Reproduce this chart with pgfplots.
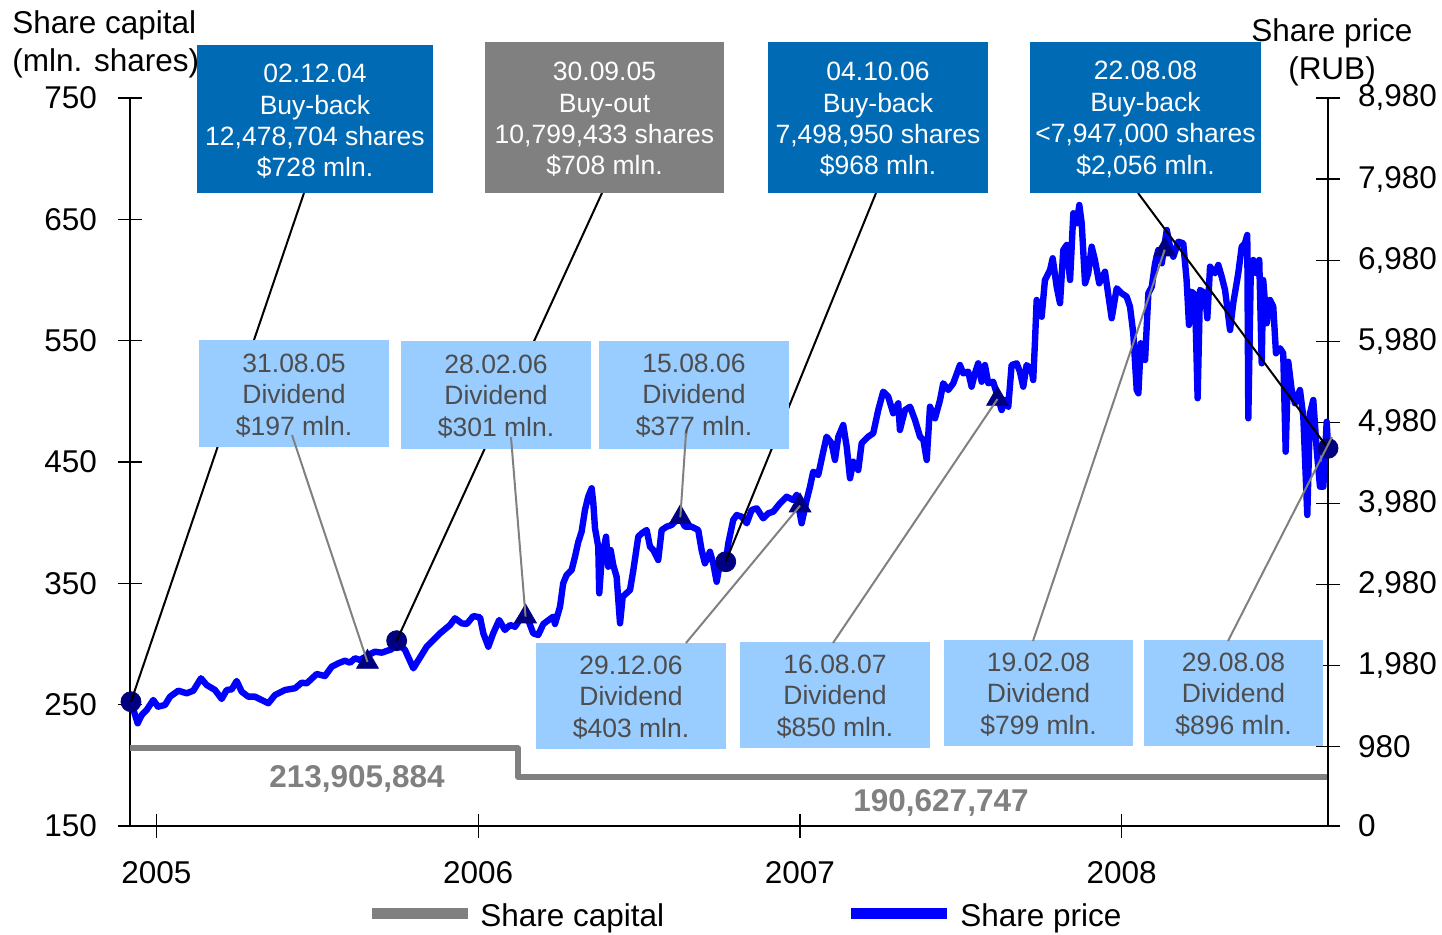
\documentclass[border=0pt]{standalone}
\usepackage{fontspec}
\setmainfont{Liberation Sans}
\usepackage{pgfplots}
\usepackage{pgfplotstable}
\pgfplotsset{compat=1.18}
\definecolor{bbdark}{RGB}{0,106,180}
\definecolor{bbgray}{RGB}{128,128,128}
\definecolor{bblight}{RGB}{153,204,255}
\definecolor{txtgray}{RGB}{77,77,77}
\definecolor{mnavy}{RGB}{0,0,128}
\definecolor{pblue}{RGB}{0,0,255}
\newcommand\mainfont{\fontsize{15.75}{18.9}\selectfont}
\newcommand\boxfont{\fontsize{13.25}{15.7}\selectfont}

% share capital (mln. shares), x = days from 1 Jan 2005
\pgfplotstableread{
d cap
-30 213.9
410 190.6
1329 190.6
}\capital

% share price (RUB)
\pgfplotstableread{
d p
-28.9 1533
-21.3 1267
-16.7 1369
-11.1 1431
-3.6 1554
1.8 1472
9.7 1493
15.4 1595
24.8 1669
34.3 1637
41.8 1669
50.5 1822
57.0 1739
66.4 1678
74.0 1567
79.7 1678
85.4 1686
91.0 1789
96.7 1657
104.2 1595
111.8 1595
119.4 1554
126.9 1514
134.5 1616
145.8 1678
157.2 1699
164.8 1768
170.5 1760
181.8 1875
191.2 1850
198.8 1965
206.3 2007
213.9 2039
219.6 2014
225.2 2069
230.9 2048
240.3 2109
247.9 2150
255.5 2138
266.8 2180
272.5 2273
282.0 2171
291.4 1945
306.6 2212
321.7 2377
333.0 2479
338.7 2562
346.3 2500
352.0 2492
359.5 2590
367.1 2574
370.8 2377
376.5 2212
382.0 2377
388.8 2541
395.3 2418
401.1 2479
406.8 2458
414.4 2582
421.7 2541
427.4 2377
433.1 2356
438.9 2492
450.1 2582
452.1 2492
457.8 2705
461.4 2994
465.3 3096
471.0 3158
474.8 3322
478.6 3507
482.3 3630
486.1 3898
489.8 4062
493.7 4166
495.6 3980
497.5 3672
501.2 3445
502.3 2870
505.0 3281
510.0 3569
512.5 3198
515.2 3404
518.2 3219
522.0 3075
525.9 2500
528.9 2828
537.2 2911
541.0 3158
546.6 3569
550.5 3610
556.1 3651
559.9 3445
563.6 3404
569.2 3281
573.1 3651
578.8 3692
584.4 3713
593.8 3815
599.5 3692
607.1 3692
614.6 3651
618.4 3404
622.2 3240
627.9 3383
631.6 3240
635.5 3013
639.2 3240
646.1 3281
648.7 3487
654.3 3775
658.2 3836
663.9 3815
669.6 3734
675.2 3898
680.9 3919
688.3 3795
694.0 3857
699.7 3877
707.3 3980
714.9 4062
722.4 4021
726.2 4083
731.9 3734
737.6 4021
741.4 4185
745.0 4370
750.7 4330
756.4 4617
760.2 4802
765.9 4721
769.7 4515
773.5 4802
779.1 4946
783.0 4679
786.8 4289
790.4 4494
796.1 4391
800.0 4721
807.4 4802
813.1 4844
818.8 5131
824.4 5357
830.1 5296
835.8 5091
841.5 5214
843.4 4885
849.1 5131
854.9 5172
860.5 5008
866.2 4802
870.0 4761
873.8 4515
877.5 5172
883.2 5029
888.9 5255
892.5 5461
898.2 5378
903.9 5461
911.5 5686
915.2 5584
920.9 5604
924.7 5419
928.5 5584
932.2 5707
936.1 5480
939.8 5686
943.6 5461
949.2 5480
953.1 5337
958.8 5131
962.5 5255
966.3 5172
970.1 5686
975.8 5707
979.5 5604
983.3 5419
987.1 5686
992.8 5625
994.6 5501
996.6 5974
998.5 6488
1004.2 6282
1007.9 6735
1013.7 6858
1016.7 7003
1021.2 6652
1025.0 6448
1028.7 7105
1032.6 7167
1036.4 6735
1040.1 7558
1043.9 7434
1046.9 7660
1049.6 7434
1053.4 6694
1057.0 6818
1060.9 7146
1064.6 6982
1069.5 6694
1076.0 6837
1083.6 6263
1089.3 6633
1094.9 6571
1100.6 6529
1104.4 6406
1108.1 6077
1112.0 5378
1113.9 5337
1116.6 5954
1121.5 5748
1125.2 6571
1129.1 6652
1132.8 6941
1136.5 7105
1140.4 6941
1146.1 7352
1149.8 7146
1153.5 7022
1159.2 7207
1164.8 7188
1168.6 6735
1171.3 6180
1174.3 6591
1178.1 6550
1181.1 5276
1183.8 6612
1189.4 6571
1192.1 6263
1195.2 6899
1200.8 6818
1204.6 6920
1208.4 6776
1212.2 6612
1217.9 6118
1221.5 6448
1227.2 6818
1231.1 7146
1234.8 7188
1237.4 7290
1238.6 5029
1241.3 6776
1244.2 6982
1248.1 6818
1251.0 6982
1253.8 5707
1255.5 6735
1259.4 6201
1263.2 6488
1266.9 6406
1270.0 5831
1274.6 5892
1278.2 5831
1281.0 4617
1283.9 5727
1287.8 5378
1291.5 5214
1297.2 5378
1301.0 5049
1305.5 3836
1308.6 5091
1312.3 5255
1316.2 4638
1319.9 4185
1323.7 4185
1327.5 4987
1329.0 4679
}\price

\begin{document}
\begin{tikzpicture}
\pgfplotsset{
  common/.style={scale only axis, width=599pt, height=364pt,
    xmin=-30, xmax=1329, at={(0pt,0pt)}, anchor=south west, clip=false,
    axis line style={line width=0.6pt, black, -},
    tick style={line width=0.6pt, black},
    major tick length=12pt, tick align=center,
    tick label style={font=\mainfont},
    /pgf/number format/assume math mode=true,
    scaled ticks=false}
}
\begin{axis}[common, ymin=150, ymax=750,
  ytick={150,250,350,450,550,650,750},
  axis x line*=bottom, axis y line*=left,
  yticklabel style={xshift=-7pt},
  xticklabel style={yshift=-8pt},
  xtick={0,365,730,1095}, xticklabels={2005,2006,2007,2008}]
\addplot[const plot, color=bbgray, line width=3pt, line join=round] table[x=d, y=cap] {\capital};
\end{axis}
\begin{axis}[common, ymin=0, ymax=8980,
  ytick={0,980,1980,2980,3980,4980,5980,6980,7980,8980},
  axis y line*=right, axis x line=none,
  yticklabel style={xshift=5.5pt},
  /pgf/number format/.cd, 1000 sep={,}]
\addplot[color=pblue, line width=3.2pt, line join=round] table[x=d, y=p] {\price};
\addplot[only marks, mark=*, mark size=5pt, color=mnavy] coordinates {(-28.9,1533) (272.5,2286) (645.8,3260) (1329,4659)};
\addplot[only marks, mark=triangle*, mark size=6.25pt, color=mnavy] coordinates {(239.4,2023) (418.7,2583) (594.3,3808) (730.1,3951) (954.1,5267) (1143.8,7109)};
\coordinate (c1) at (axis cs:-28.9,1533);
\coordinate (c2) at (axis cs:272.5,2286);
\coordinate (c3) at (axis cs:645.8,3260);
\coordinate (c4) at (axis cs:1329,4659);
\coordinate (t1) at (axis cs:239.4,2023);
\coordinate (t2) at (axis cs:418.7,2583);
\coordinate (t3) at (axis cs:594.3,3808);
\coordinate (t4) at (axis cs:730.1,3951);
\coordinate (t5) at (axis cs:954.1,5267);
\coordinate (t6) at (axis cs:1143.8,7109);
\end{axis}

\begin{scope}[x=0.5pt, y=-0.5pt, shift={(-65pt,413pt)}]
% black leader lines (buy-backs)
\draw[black, line width=1pt] (304,193) -- (c1);
\draw[black, line width=1pt] (602,193) -- (c2);
\draw[black, line width=1pt] (876,193) -- (c3);
\draw[black, line width=1pt] (1138,193) -- (c4);
% dark boxes
\fill[bbdark] (197,45) rectangle (433,193);
\node[align=center, font=\boxfont, text=white] at (315,121.5) {02.12.04\\Buy-back\\12,478,704 shares\\\$728 mln.};
\fill[bbgray] (485,42) rectangle (724,193);
\node[align=center, font=\boxfont, text=white] at (604.5,119.5) {30.09.05\\Buy-out\\10,799,433 shares\\\$708 mln.};
\fill[bbdark] (768,42) rectangle (988,193);
\node[align=center, font=\boxfont, text=white] at (878,119.5) {04.10.06\\Buy-back\\7,498,950 shares\\\$968 mln.};
\fill[bbdark] (1030,42) rectangle (1261,193);
\node[align=center, font=\boxfont, text=white] at (1145.5,119.5) {22.08.08\\Buy-back\\<7,947,000 shares\\\$2,056 mln.};
% light boxes (dividends)
\fill[bblight] (199,340) rectangle (389,447);
\node[align=center, font=\boxfont, text=txtgray] at (294,395.5) {31.08.05\\Dividend\\\$197 mln.};
\fill[bblight] (401,341) rectangle (591,449);
\node[align=center, font=\boxfont, text=txtgray] at (496,396.5) {28.02.06\\Dividend\\\$301 mln.};
\fill[bblight] (599,341) rectangle (789,449);
\node[align=center, font=\boxfont, text=txtgray] at (694,395.5) {15.08.06\\Dividend\\\$377 mln.};
\fill[bblight] (536,643) rectangle (726,749);
\node[align=center, font=\boxfont, text=txtgray] at (631,697.5) {29.12.06\\Dividend\\\$403 mln.};
\fill[bblight] (740,642) rectangle (930,748);
\node[align=center, font=\boxfont, text=txtgray] at (835,696.5) {16.08.07\\Dividend\\\$850 mln.};
\fill[bblight] (944,640) rectangle (1133,746);
\node[align=center, font=\boxfont, text=txtgray] at (1038.5,694.5) {19.02.08\\Dividend\\\$799 mln.};
\fill[bblight] (1144,640) rectangle (1323,746);
\node[align=center, font=\boxfont, text=txtgray] at (1233.5,694.5) {29.08.08\\Dividend\\\$896 mln.};
% gray leader lines
\draw[bbgray, line width=1pt] (292,435) -- (t1);
\draw[bbgray, line width=1pt] (511,437) -- (t2);
\draw[bbgray, line width=1pt] (686,433) -- (t3);
\draw[bbgray, line width=1pt] (686,643) -- (t4);
\draw[bbgray, line width=1pt] (833,643) -- (t5);
\draw[bbgray, line width=1pt] (1033,641) -- (t6);
\draw[bbgray, line width=1pt] (1228,641) -- (1332,437);
% share capital values
\node[font=\mainfont\bfseries, text=bbgray] at (357,779) {213,905,884};
\node[font=\mainfont\bfseries, text=bbgray] at (941,803) {190,627,747};
% axis titles
\node[font=\mainfont, align=left, anchor=north west, inner sep=0pt] at (12,10) {Share capital\\(mln. shares)};
\node[font=\mainfont, align=center, anchor=north, inner sep=0pt] at (1332,18) {Share price\\(RUB)};
% legend
\draw[bbgray, line width=5.5pt] (372,913.5) -- (468,913.5);
\node[font=\mainfont, anchor=base west, inner sep=0pt] at (480,926) {Share capital};
\draw[pblue, line width=5.5pt] (851,913.5) -- (947,913.5);
\node[font=\mainfont, anchor=base west, inner sep=0pt] at (960,926) {Share price};
\end{scope}
\pgfresetboundingbox
\path[use as bounding box] (-65pt,-54pt) rectangle (656pt,413pt);
\end{tikzpicture}
\end{document}
